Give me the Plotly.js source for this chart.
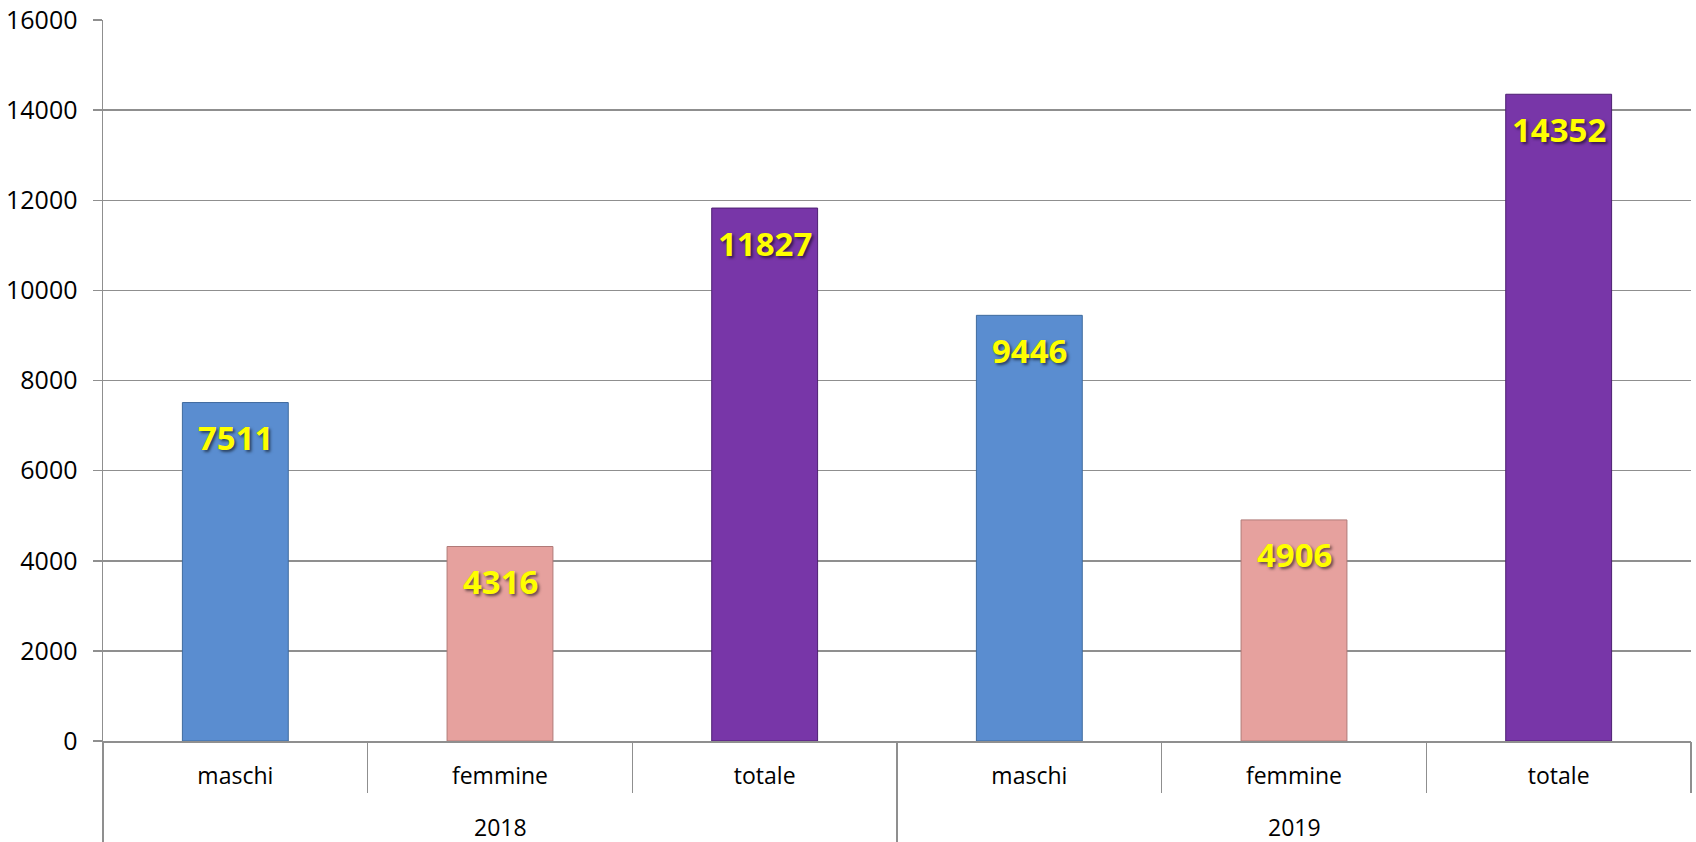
<!DOCTYPE html>
<html>
<head>
<meta charset="utf-8">
<script src="https://cdn.plot.ly/plotly-3.0.1.min.js"></script>
<style>html,body{margin:0;padding:0;background:#fff;}#chart{width:1696px;height:842px;}</style>
</head>
<body>
<div id="chart"></div>
<script>
const years = ['2018', '2018', '2018', '2019', '2019', '2019'];
const groups = ['maschi', 'femmine', 'totale', 'maschi', 'femmine', 'totale'];
const values = [7511, 4316, 11827, 9446, 4906, 14352];
const yTicks = [0, 2000, 4000, 6000, 8000, 10000, 12000, 14000, 16000];

const fillByGroup = { maschi: '#5A8DD0', femmine: '#E6A19E', totale: '#7836A8' };
const edgeByGroup = { maschi: '#3F6B9E', femmine: '#B07A78', totale: '#4E1F72' };

const grid = '#8f8f8f';
const font = 'Open Sans, Liberation Sans, sans-serif';

const idx = groups.map((g, i) => i);
const n = groups.length;

// boundaries between categories: group (year) boundaries get long dividers
const yearBounds = [-0.5];
const catBounds = [];
for (let i = 1; i < n; i++) {
  if (years[i] !== years[i - 1]) yearBounds.push(i - 0.5); else catBounds.push(i - 0.5);
}
catBounds.push(n - 0.5);

const yearList = [...new Set(years)];
const yearCenters = yearList.map(y => {
  const ii = idx.filter(i => years[i] === y);
  return ii.reduce((a, b) => a + b, 0) / ii.length;
});

const bars = {
  type: 'bar',
  x: idx,
  y: values,
  width: 0.4,
  marker: {
    color: groups.map(g => fillByGroup[g]),
    line: { color: groups.map(g => edgeByGroup[g]), width: 1 }
  },
  hoverinfo: 'skip',
  showlegend: false
};

const helper2 = { type: 'scatter', x: [], y: [], xaxis: 'x2', yaxis: 'y', mode: 'markers', showlegend: false, hoverinfo: 'skip' };
const helper3 = { type: 'scatter', x: [], y: [], xaxis: 'x3', yaxis: 'y', mode: 'markers', showlegend: false, hoverinfo: 'skip' };

const annotations = values.map((v, i) => ({
  xref: 'x', yref: 'y', x: i, y: v,
  text: String(v), showarrow: false, yanchor: 'middle', yshift: -35,
  font: { family: font, size: 33, color: '#FFFF00', weight: 700, shadow: '2px 2px 3px rgba(0,0,0,0.55)' }
})).concat(yearList.map((y, k) => ({
  xref: 'x', yref: 'paper', x: yearCenters[k], y: 0,
  text: y, showarrow: false, yanchor: 'middle', yshift: -86,
  font: { family: font, size: 23, color: '#000000' }
})));

const tickAxisBase = {
  overlaying: 'x', anchor: 'y', side: 'bottom',
  range: [-0.5, n - 0.5],
  tickmode: 'array', showticklabels: false, ticks: 'outside',
  tickcolor: grid, tickwidth: 1.5,
  showgrid: false, zeroline: false, showline: false
};

const layout = {
  width: 1696, height: 842,
  margin: { l: 103, r: 5, t: 20, b: 101 },
  paper_bgcolor: '#ffffff', plot_bgcolor: '#ffffff',
  font: { family: font, size: 23, color: '#000000' },
  xaxis: {
    range: [-0.5, n - 0.5],
    tickmode: 'array', tickvals: idx, ticktext: groups,
    showgrid: false, zeroline: false,
    showline: true, linecolor: grid, linewidth: 1.5,
    ticks: '', ticklabelstandoff: 14,
    tickfont: { family: font, size: 23, color: '#000000' }
  },
  xaxis2: Object.assign({}, tickAxisBase, { tickvals: catBounds, ticklen: 51 }),
  xaxis3: Object.assign({}, tickAxisBase, { tickvals: yearBounds, ticklen: 101 }),
  yaxis: {
    range: [0, 16000],
    tickmode: 'array', tickvals: yTicks, tickformat: 'd',
    showgrid: true, gridcolor: grid, gridwidth: 1.5,
    zeroline: false,
    showline: true, linecolor: grid, linewidth: 1.5,
    ticks: 'outside', ticklen: 9, tickcolor: grid, tickwidth: 1.5,
    ticklabelstandoff: 10,
    tickfont: { family: font, size: 25, color: '#000000' }
  },
  annotations: annotations
};

Plotly.newPlot('chart', [bars, helper2, helper3], layout, { displayModeBar: false, staticPlot: true });
</script>
</body>
</html>
